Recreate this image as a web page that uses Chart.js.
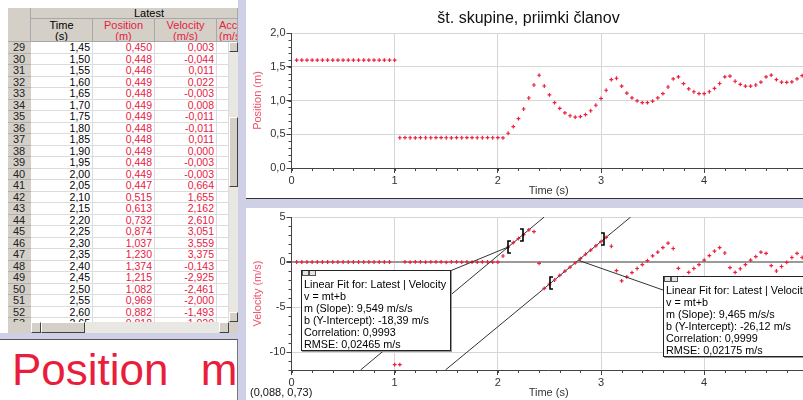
<!DOCTYPE html>
<html>
<head>
<meta charset="utf-8">
<title>Logger Pro</title>
<script src="https://cdn.jsdelivr.net/npm/chart.js@4.4.1/dist/chart.umd.min.js"></script>
<style>
  html, body { margin: 0; padding: 0; }
  body { width: 803px; height: 400px; overflow: hidden; position: relative; background: #cfd0e6;
         font-family: "Liberation Sans", Arial, sans-serif; }
  .abs { position: absolute; box-sizing: border-box; white-space: nowrap; overflow: hidden; }
  .pane { position: absolute; background: #fff; overflow: hidden; }
  .gray { background: #d4d0c8; }
  .hd { font-size: 11px; text-align: center; line-height: 11px; border-right: 1px solid #a8a8a8; border-bottom: 1px solid #a8a8a8; }
  .rn { font-size: 11px; line-height: 11.5px; padding-left: 5px; border-bottom: 1px solid #b0b0b0; color: #222; }
  .cell { background: #fff; font-size: 10.5px; line-height: 11.5px; text-align: right; padding-right: 2px;
          border-bottom: 1px solid #dcdcdc; border-right: 1px solid #dcdcdc; }
  .red { color: #e8203f; }
  .btn { background: #d4d0c8; border: 1px solid; border-color: #fff #404040 #404040 #fff; }
  .fit { position: absolute; background: #fff; border: 1px solid #222; box-shadow: 1px 1px 0 #999;
         font-size: 10.8px; line-height: 12px; padding: 7px 0 0 2px; color: #000; white-space: nowrap; overflow: hidden; box-sizing: border-box; }
  .ico { position: absolute; top: -1px; width: 7px; height: 6px; border: 1px solid #555; background: #e4e4e4; box-sizing: border-box; }
</style>
</head>
<body>
<div class="abs" style="left:0;top:0;width:238px;height:333px;background:#fff;"></div>
<div id="table"></div>
<div class="abs" style="left:0;top:339px;width:238px;height:61px;background:#fff;border-top:1px solid #555;border-right:1px solid #777;"></div>
<div class="abs" style="left:12px;top:348px;font-size:44px;line-height:44px;color:#e91e3c;word-spacing:20px;">Position m</div>

<div class="pane" style="left:246px;top:0;width:565px;height:198px;border-bottom:1px solid #333;">
  <canvas id="posChart" width="565" height="198"></canvas>
</div>
<div class="pane" style="left:246px;top:208px;width:565px;height:192px;">
  <canvas id="velChart" width="565" height="192"></canvas>
</div>
<div class="abs" style="left:250px;top:386px;font-size:11px;color:#111;">(0,088, 0,73)</div>

<script>
// ---- data ----
const time = [0.05,0.10,0.15,0.20,0.25,0.30,0.35,0.40,0.45,0.50,0.55,0.60,0.65,0.70,0.75,0.80,0.85,0.90,0.95,1.00,
  1.05,1.10,1.15,1.20,1.25,1.30,1.35,1.40,1.45,1.50,1.55,1.60,1.65,1.70,1.75,1.80,1.85,1.90,1.95,2.00,
  2.05,2.10,2.15,2.20,2.25,2.30,2.35,2.40,2.45,2.50,2.55,2.60,2.65,2.70,2.75,2.80,2.85,2.90,2.95,3.00,
  3.05,3.10,3.15,3.20,3.25,3.30,3.35,3.40,3.45,3.50,3.55,3.60,3.65,3.70,3.75,3.80,3.85,3.90,3.95,4.00,
  4.05,4.10,4.15,4.20,4.25,4.30,4.35,4.40,4.45,4.50,4.55,4.60,4.65,4.70,4.75,4.80,4.85,4.90,4.95];

const position = [1.597,1.597,1.597,1.597,1.597,1.597,1.597,1.597,1.597,1.597,1.597,1.597,1.597,1.597,1.597,1.597,1.597,1.597,1.597,1.597,
  0.448,0.449,0.448,0.447,0.449,0.448,0.448,0.449,0.450,0.448,0.446,0.449,0.448,0.449,0.449,0.448,0.448,0.449,0.448,0.449,
  0.447,0.515,0.613,0.732,0.874,1.037,1.230,1.374,1.215,1.082,0.969,0.882,0.818,0.774,0.755,0.760,0.792,0.848,0.930,1.030,
  1.152,1.310,1.330,1.212,1.110,1.040,0.993,0.970,0.970,0.990,1.040,1.102,1.200,1.320,1.350,1.250,1.172,1.130,1.103,1.103,
  1.130,1.180,1.252,1.350,1.360,1.285,1.240,1.212,1.212,1.230,1.272,1.350,1.375,1.310,1.272,1.270,1.275,1.320,1.370];

const velocity = [0,0,0,0,0,0,0,0,0,0,0,0,0,0,0,0,0,0,0,-11.4,
  -11.4,0.005,-0.008,0.011,0.003,-0.006,0.008,0.014,0.003,-0.044,0.011,0.022,-0.003,0.008,-0.011,-0.011,0.011,0.000,-0.003,-0.003,
  0.664,1.655,2.162,2.610,3.051,3.559,3.375,-0.143,-2.925,-2.461,-2.000,-1.493,-1.02,-0.56,-0.10,0.38,0.86,1.33,1.80,2.27,
  2.74,1.75,-0.96,-2.10,-1.65,-1.18,-0.72,-0.30,0.15,0.68,1.10,1.60,2.10,1.50,-0.70,-1.75,-1.15,-0.72,-0.30,0.20,
  0.70,1.20,1.60,1.00,-0.62,-1.15,-0.75,-0.30,0.20,0.60,1.10,0.95,-0.40,-1.00,-0.50,-0.05,0.50,0.95,0.50];

// linear fits shown in the boxes
const fitSlope = [9.549, 9.465];
const fitIntercept = [-18.39, -26.12];
const fitStart = [2.10, 2.51];
const fitEnd = [2.24, 3.025];
const fitLeaderAt = [2.10, 2.78];
const fitText = [
  ["Linear Fit for: Latest | Velocity", "v = mt+b", "m (Slope): 9,549 m/s/s", "b (Y-Intercept): -18,39 m/s", "Correlation: 0,9993", "RMSE: 0,02465 m/s"],
  ["Linear Fit for: Latest | Velocity", "v = mt+b", "m (Slope): 9,465 m/s/s", "b (Y-Intercept): -26,12 m/s", "Correlation: 0,9999", "RMSE: 0,02175 m/s"]
];
const fitBoxes = [
  { left: 301, top: 270, width: 150, height: 81, anchor: [450, 271] },
  { left: 663, top: 276, width: 160, height: 81, anchor: [663, 290] }
];

const firstRow = 29;
const rowCount = 25;
const RED = '#ee1f3f';
const comma = (v, d) => v.toFixed(d).replace('.', ',');

// ---- data table on the left ----
const tableEl = document.getElementById('table');
function box(x, y, w, h, cls, text, style) {
  const d = document.createElement('div');
  d.className = 'abs ' + (cls || '');
  d.style.cssText = `left:${x}px;top:${y}px;width:${w}px;height:${h}px;` + (style || '');
  if (text !== undefined) d.textContent = text;
  tableEl.appendChild(d);
  return d;
}
box(8, 8, 230, 325, 'gray', undefined, 'border:1px solid #888;');
box(31, 8, 207, 11, 'gray hd', 'Latest', 'text-align:left;padding-left:103px;');
const cols = [
  { x: 31, w: 62, title: 'Time', unit: '(s)', cls: '' },
  { x: 93, w: 62, title: 'Position', unit: '(m)', cls: 'red' },
  { x: 155, w: 62, title: 'Velocity', unit: '(m/s)', cls: 'red' },
  { x: 217, w: 21, title: 'Acceleration', unit: '(m/s²)', cls: 'red' }
];
cols.forEach(c => {
  const h = box(c.x, 19, c.w, 23, 'gray hd ' + c.cls, undefined, c.w < 30 ? 'text-align:left;padding-left:2px;' : '');
  h.innerHTML = c.title + '<br>' + c.unit;
  h.style.paddingTop = '1px';
});
for (let r = 0; r < rowCount; r++) {
  const i = firstRow - 1 + r;
  const y = 42 + r * 11.5;
  box(8, y, 23, 11.5, 'gray rn', String(i + 1));
  box(31, y, 62, 11.5, 'cell', comma(time[i], 2));
  box(93, y, 62, 11.5, 'cell red', comma(position[i], 3));
  box(155, y, 62, 11.5, 'cell red', comma(velocity[i], 3));
  box(217, y, 12, 11.5, 'cell', '');
}
box(8, 8, 23, 34, 'gray', undefined, 'border-right:1px solid #a8a8a8;border-bottom:1px solid #a8a8a8;');
// scrollbars
box(229, 42, 9, 280, '', undefined, 'background:#e9e7e2;');
box(229, 42, 9, 10, 'btn');
box(229, 117, 9, 70, 'btn');
box(229, 312, 9, 10, 'btn');
box(8, 322, 230, 11, 'gray');
box(31, 322, 198, 11, '', undefined, 'background:#e9e7e2;');
box(31, 322, 10, 11, 'btn');
box(41, 322, 44, 11, 'btn');
box(219, 322, 10, 11, 'btn');

// ---- fit boxes ----
fitBoxes.forEach((b, k) => {
  const d = document.createElement('div');
  d.className = 'fit';
  d.style.cssText = `left:${b.left}px;top:${b.top}px;width:${b.width}px;height:${b.height}px;`;
  d.innerHTML = fitText[k].map(s => `<div>${s}</div>`).join('') +
    '<div class="ico" style="left:0"></div><div class="ico" style="left:7px"></div>';
  document.body.appendChild(d);
});

// ---- Chart.js ----
Chart.defaults.font.family = '"Liberation Sans", Arial, sans-serif';
Chart.defaults.font.size = 11;
Chart.defaults.color = '#333';

// short minor tick marks between labelled ticks
const minorTicks = {
  id: 'minorTicks',
  afterDraw(chart, args, opts) {
    const { ctx, chartArea } = chart;
    const xs = chart.scales.x, ys = chart.scales.y;
    ctx.save();
    ctx.strokeStyle = '#444';
    ctx.lineWidth = 1;
    ctx.beginPath();
    for (let i = Math.ceil(xs.min / opts.x); i * opts.x <= xs.max + 1e-9; i++) {
      const px = Math.round(xs.getPixelForValue(i * opts.x)) + 0.5;
      ctx.moveTo(px, chartArea.bottom);
      ctx.lineTo(px, chartArea.bottom + 3);
    }
    for (let i = Math.ceil(ys.min / opts.y - 1e-9); i * opts.y <= ys.max + 1e-9; i++) {
      const py = Math.round(ys.getPixelForValue(i * opts.y)) + 0.5;
      ctx.moveTo(chartArea.left, py);
      ctx.lineTo(chartArea.left - 3, py);
    }
    ctx.stroke();
    ctx.restore();
  }
};

// brackets and leader lines of the linear fits
const fitMarks = {
  id: 'fitMarks',
  afterDatasetsDraw(chart) {
    const { ctx } = chart;
    const xs = chart.scales.x, ys = chart.scales.y;
    const rect = chart.canvas.getBoundingClientRect();
    ctx.save();
    ctx.strokeStyle = '#333';
    ctx.lineWidth = 1;
    fitSlope.forEach((m, k) => {
      const b = fitIntercept[k];
      const lt = fitLeaderAt[k];
      ctx.beginPath();
      ctx.moveTo(fitBoxes[k].anchor[0] - rect.left, fitBoxes[k].anchor[1] - rect.top);
      ctx.lineTo(xs.getPixelForValue(lt), ys.getPixelForValue(m * lt + b));
      ctx.stroke();
    });
    ctx.strokeStyle = '#000';
    ctx.lineWidth = 1.6;
    fitSlope.forEach((m, k) => {
      const b = fitIntercept[k];
      [[fitStart[k], 1], [fitEnd[k], -1]].forEach(([t, dir]) => {
        const px = Math.round(xs.getPixelForValue(t));
        const py = Math.round(ys.getPixelForValue(m * t + b));
        ctx.beginPath();
        ctx.moveTo(px + 3 * dir, py - 6);
        ctx.lineTo(px, py - 6);
        ctx.lineTo(px, py + 6);
        ctx.lineTo(px + 3 * dir, py + 6);
        ctx.stroke();
      });
    });
    ctx.restore();
  }
};

const pointStyle = {
  showLine: false,
  pointStyle: 'cross',
  pointRadius: 1.9,
  pointBorderWidth: 1.2,
  borderColor: RED,
  backgroundColor: RED
};

const xAxis = (extraHeight) => ({
  type: 'linear',
  min: 0,
  max: 4.985,
  afterFit: s => { s.height = extraHeight; },
  ticks: { stepSize: 1, includeBounds: false, padding: 1, color: '#333', maxRotation: 0 },
  grid: { color: '#d6d6d6', tickColor: '#444', tickLength: 5 },
  border: { color: '#444' },
  title: { display: true, text: 'Time (s)', color: '#333', padding: 0, font: { size: 11 } }
});

new Chart(document.getElementById('posChart'), {
  type: 'scatter',
  data: {
    datasets: [{ label: 'Position', data: time.map((t, i) => ({ x: t, y: position[i] })), ...pointStyle }]
  },
  options: {
    responsive: false,
    animation: false,
    layout: { padding: 0 },
    plugins: {
      legend: { display: false },
      tooltip: { enabled: false },
      title: { display: true, text: 'št. skupine, priimki članov', color: '#111',
               font: { size: 16, weight: 'normal' }, padding: { top: 9, bottom: 4.8 } },
      minorTicks: { x: 0.2, y: 0.1 }
    },
    scales: {
      x: xAxis(30),
      y: {
        min: 0, max: 2,
        afterFit: s => { s.width = 45.5; },
        ticks: { stepSize: 0.5, padding: 1, color: '#333', callback: v => comma(v, 1) },
        grid: { color: '#d6d6d6', tickColor: '#444', tickLength: 5 },
        border: { color: '#444' },
        title: { display: true, text: 'Position (m)', color: '#f0506c', padding: { top: 5, bottom: 0 }, font: { size: 11 } }
      }
    }
  },
  plugins: [minorTicks]
});

new Chart(document.getElementById('velChart'), {
  type: 'scatter',
  data: {
    datasets: [
      { label: 'Velocity', data: time.map((t, i) => ({ x: t, y: velocity[i] })), order: 1, ...pointStyle },
      ...fitSlope.map((m, k) => ({
        type: 'line',
        label: 'Fit ' + (k + 1),
        order: 2,
        data: [-12, 5].map(v => ({ x: (v - fitIntercept[k]) / m, y: v })),
        borderColor: '#333',
        borderWidth: 1,
        pointRadius: 0
      }))
    ]
  },
  options: {
    responsive: false,
    animation: false,
    layout: { padding: { top: 9 } },
    plugins: {
      legend: { display: false },
      tooltip: { enabled: false },
      minorTicks: { x: 0.2, y: 1 }
    },
    scales: {
      x: xAxis(30),
      y: {
        min: -12, max: 5,
        afterFit: s => { s.width = 45.5; },
        ticks: { stepSize: 5, includeBounds: false, padding: 1, color: '#333' },
        grid: {
          color: c => c.tick && c.tick.value === 0 ? '#9a9a9a' : '#d6d6d6',
          lineWidth: c => c.tick && c.tick.value === 0 ? 2 : 1,
          tickColor: '#444', tickLength: 5
        },
        border: { color: '#444' },
        title: { display: true, text: 'Velocity (m/s)', color: '#f0506c', padding: { top: 5, bottom: 0 }, font: { size: 11 } }
      }
    }
  },
  plugins: [minorTicks, fitMarks]
});
</script>
</body>
</html>
